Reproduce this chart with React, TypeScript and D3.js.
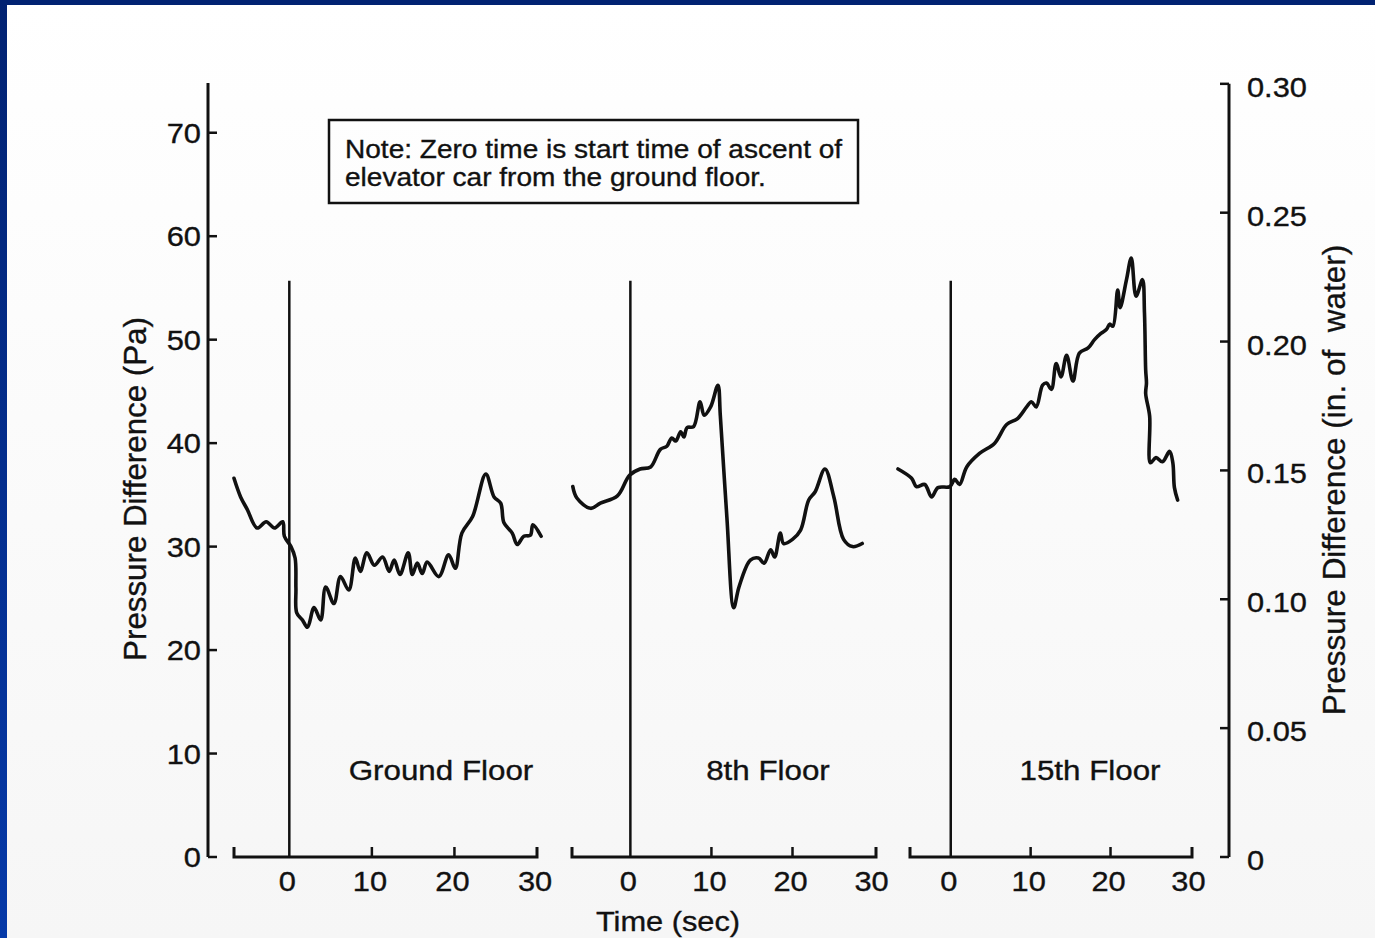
import React from "react";
import * as d3 from "d3";

// ---------- data ----------
const leftTicks = [0, 10, 20, 30, 40, 50, 60, 70];
const rightTicks = [0, 0.05, 0.1, 0.15, 0.2, 0.25, 0.3];
const rightTickLabels = ["0", "0.05", "0.10", "0.15", "0.20", "0.25", "0.30"];
const timeTicks = [0, 10, 20, 30];
const panelNames = ["Ground Floor", "8th Floor", "15th Floor"];
const markerTop = 55.7; // Pa, top of the t = 0 marker line
const PA_PER_INCH_WATER = 249.09;

const groundT = [-6.7, -5.9, -5.1, -3.9, -2.8, -1.8, -0.8, -0.6, 0.2, 0.7, 0.8, 0.9, 1.6, 2.2, 3.0, 3.8, 4.4, 5.4, 6.2, 7.2, 8.0, 8.6, 9.4, 10.3, 11.3, 12.1, 12.7, 13.4, 14.4, 14.9, 15.5, 16.1, 16.7, 18.1, 19.3, 20.1, 20.9, 22.2, 23.8, 24.8, 25.6, 26.0, 27.0, 27.6, 28.4, 29.2, 29.5, 30.5];
const groundP = [36.6, 34.8, 33.6, 31.8, 32.4, 31.8, 32.4, 31.0, 30.0, 28.9, 26.0, 23.6, 22.9, 22.2, 24.1, 22.9, 26.1, 24.5, 27.1, 25.8, 28.9, 27.6, 29.4, 28.2, 29.0, 27.6, 28.7, 27.3, 29.4, 27.3, 28.4, 27.4, 28.5, 27.1, 29.2, 27.9, 31.3, 32.9, 37.0, 34.8, 34.2, 32.3, 31.3, 30.2, 31.0, 31.1, 32.1, 31.0];

const eighthT = [-7.1, -6.6, -4.9, -3.7, -1.6, -0.1, 1.2, 2.5, 3.7, 4.5, 5.1, 5.6, 6.2, 6.6, 7.0, 7.8, 8.6, 9.1, 9.9, 10.8, 11.1, 11.9, 12.75, 13.4, 14.8, 15.8, 16.5, 17.3, 17.8, 18.5, 18.9, 20.0, 21.0, 22.0, 22.8, 24.0, 25.1, 26.3, 27.4, 28.6];
const eighthP = [35.8, 34.7, 33.7, 34.2, 34.9, 36.9, 37.5, 37.7, 39.4, 39.7, 40.5, 40.2, 41.1, 40.6, 41.5, 41.6, 44.0, 42.7, 43.5, 45.6, 42.6, 32.9, 24.1, 26.1, 28.7, 28.9, 28.4, 29.7, 29.0, 31.3, 30.3, 30.7, 31.6, 34.5, 35.3, 37.5, 34.8, 30.7, 30.0, 30.3];

const fifteenthT = [-6.6, -4.9, -4.3, -3.25, -2.4, -1.6, -0.1, 0.5, 1.1, 2.0, 3.6, 5.5, 7.0, 8.4, 9.5, 10.1, 10.7, 11.5, 12.0, 12.6, 13.2, 13.8, 14.5, 15.3, 16.1, 17.2, 18.0, 18.8, 19.5, 19.9, 20.3, 20.9, 21.2, 22.0, 22.6, 23.2, 24.0, 24.25, 24.4, 24.5, 24.4, 24.9, 25.0, 25.7, 26.5, 27.4, 27.8, 28.0, 28.4];
const fifteenthP = [37.5, 36.6, 35.8, 36.0, 34.8, 35.7, 35.8, 36.5, 36.0, 37.7, 39.0, 40.0, 41.8, 42.4, 43.5, 44.0, 43.5, 45.6, 45.8, 45.2, 47.7, 46.4, 48.5, 46.0, 48.7, 49.2, 50.0, 50.6, 51.0, 51.5, 51.3, 54.8, 53.1, 55.8, 57.9, 54.2, 55.8, 52.6, 47.1, 45.8, 44.8, 42.6, 38.1, 38.6, 38.2, 39.2, 38.1, 35.7, 34.5];

const seriesT = [groundT, eighthT, fifteenthT];
const seriesP = [groundP, eighthP, fifteenthP];
const panelDomains: [number, number][] = [[-6.7, 30], [-7.2, 30.3], [-5.1, 30.2]];

// ---------- layout ----------
const W = 1375, H = 938;
const FONT = "'Liberation Sans', Arial, Helvetica, sans-serif";
const SX = 1.1;
const INK = "#111";
const TEXT_STROKE = 0.35;
const yBase = 857;
const yTop = 81;
const leftX = 208;
const rightX = 1229;
const panelRanges: [number, number][] = [[234, 537], [572, 876], [910, 1192]];
const labelCenters = [441, 768, 1090];

const yPa = d3.scaleLinear().domain([0, 75]).range([yBase, yTop]);
const yIn = d3.scaleLinear().domain([0, 75 / PA_PER_INCH_WATER]).range([yBase, yTop]);

function HText({ x, y, size, anchor = "start", children }: any) {
  return (
    <text
      transform={`translate(${x},${y}) scale(${SX},1)`}
      fontSize={size}
      textAnchor={anchor}
      fontFamily={FONT}
      fill={INK}
      stroke={INK}
      strokeWidth={TEXT_STROKE}
      style={{ whiteSpace: "pre" }}
    >
      {children}
    </text>
  );
}

export default function App() {
  const panels = panelDomains.map((dom, i) => {
    const x = d3.scaleLinear().domain(dom).range(panelRanges[i]);
    const pts: [number, number][] = seriesT[i].map((t, j) => [t, seriesP[i][j]]);
    const line = d3
      .line<[number, number]>()
      .x((d) => x(d[0]))
      .y((d) => yPa(d[1]))
      .curve(d3.curveCatmullRom.alpha(0.5));
    return { x, path: line(pts) || "" };
  });

  return (
    <svg width={W} height={H} style={{ position: "absolute", left: 0, top: 0 }}>
      <defs>
        <linearGradient id="bg" x1="0" y1="0" x2="0" y2="1">
          <stop offset="0" stopColor="#ffffff" />
          <stop offset="1" stopColor="#f6f6f6" />
        </linearGradient>
        <linearGradient id="edge" x1="0" y1="0" x2="0" y2="1">
          <stop offset="0" stopColor="#012272" />
          <stop offset="1" stopColor="#0539a8" />
        </linearGradient>
      </defs>
      <rect x={0} y={0} width={W} height={H} fill="url(#bg)" />
      <rect x={0} y={0} width={W} height={5} fill="#012272" />
      <rect x={0} y={0} width={7} height={H} fill="url(#edge)" />

      {/* left axis */}
      <line x1={leftX} x2={leftX} y1={yTop + 2} y2={yBase} stroke={INK} strokeWidth={3} />
      {leftTicks.map((v) => (
        <g key={"l" + v}>
          <line x1={leftX} x2={leftX + 9} y1={yPa(v)} y2={yPa(v)} stroke={INK} strokeWidth={2.5} />
          <HText x={201} y={yPa(v) + 10} size={28} anchor="end">
            {String(v)}
          </HText>
        </g>
      ))}

      {/* right axis */}
      <line x1={rightX} x2={rightX} y1={yIn(0.3)} y2={yBase} stroke={INK} strokeWidth={3} />
      {rightTicks.map((v, i) => (
        <g key={"r" + v}>
          <line x1={rightX - 9} x2={rightX} y1={yIn(v)} y2={yIn(v)} stroke={INK} strokeWidth={2.5} />
          <HText x={1247} y={yIn(v) + 13} size={28}>
            {rightTickLabels[i]}
          </HText>
        </g>
      ))}

      {/* panels */}
      {panels.map((p, i) => {
        const [a, b] = panelRanges[i];
        return (
          <g key={"p" + i}>
            <path d={`M${a},${yBase - 10}V${yBase}H${b}V${yBase - 10}`} fill="none" stroke={INK} strokeWidth={3} />
            {timeTicks.map((t) => (
              <g key={t}>
                {t !== 0 && t !== 30 && (
                  <line x1={p.x(t)} x2={p.x(t)} y1={yBase} y2={yBase - 10} stroke={INK} strokeWidth={2.5} />
                )}
                <HText x={p.x(t) - 2} y={891} size={28} anchor="middle">
                  {String(t)}
                </HText>
              </g>
            ))}
            <line x1={p.x(0)} x2={p.x(0)} y1={yPa(markerTop)} y2={yBase} stroke={INK} strokeWidth={2.5} />
            <path d={p.path} fill="none" stroke={INK} strokeWidth={3.6} strokeLinejoin="round" strokeLinecap="round" />
            <HText x={labelCenters[i]} y={780} size={28.5} anchor="middle">
              {panelNames[i]}
            </HText>
          </g>
        );
      })}

      {/* note box */}
      <rect x={329} y={120} width={529} height={83} fill="none" stroke={INK} strokeWidth={2.5} />
      <HText x={345} y={158} size={25.5}>Note: Zero time is start time of ascent of</HText>
      <HText x={345} y={186} size={25.5}>elevator car from the ground floor.</HText>

      {/* axis titles */}
      <HText x={668} y={931} size={28} anchor="middle">Time (sec)</HText>
      <text
        transform={`translate(146,489) rotate(-90)`}
        fontSize={31.3}
        textAnchor="middle"
        fontFamily={FONT}
        fill={INK}
        stroke={INK}
        strokeWidth={TEXT_STROKE}
      >
        Pressure Difference (Pa)
      </text>
      <text
        transform={`translate(1345,480) rotate(-90)`}
        fontSize={31.5}
        textAnchor="middle"
        fontFamily={FONT}
        fill={INK}
        stroke={INK}
        strokeWidth={TEXT_STROKE}
        style={{ whiteSpace: "pre" }}
      >
        {"Pressure Difference (in. of  water)"}
      </text>
    </svg>
  );
}
